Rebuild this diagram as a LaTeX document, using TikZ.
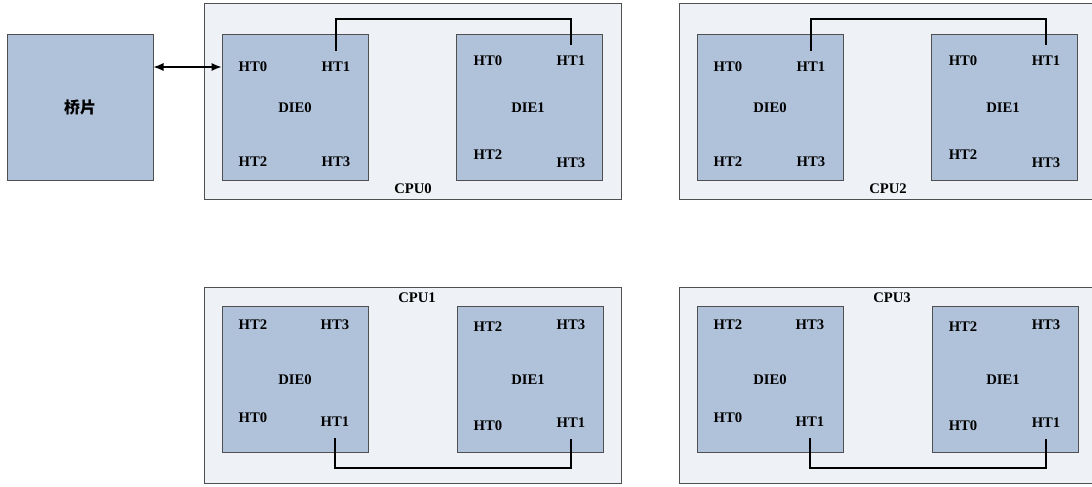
\documentclass[tikz,border=0pt]{standalone}
\usepackage{fontspec}
\setmainfont{Liberation Serif}
\newfontfamily\cjk{Noto Sans CJK SC}
\usetikzlibrary{arrows.meta}
\newlength\pxu
\setlength\pxu{0.75pt}
\definecolor{cpubg}{RGB}{238,241,246}
\definecolor{diebg}{RGB}{176,194,218}
\definecolor{boxline}{RGB}{80,80,80}
\tikzset{
  cpubox/.style={draw=boxline,fill=cpubg,line width=0.75pt,minimum width=417\pxu,minimum height=196\pxu,inner sep=0pt},
  diebox/.style={draw=boxline,fill=diebg,line width=0.75pt,minimum width=146\pxu,minimum height=146\pxu,inner sep=0pt},
  port/.style={font=\fontsize{11}{12}\selectfont\bfseries,inner xsep=1pt,inner ysep=8pt},
  link/.style={draw=black,line width=0.8pt},
  dblarrow/.style={link,{Latex[length=7.5pt,width=6pt]}-{Latex[length=7.5pt,width=6pt]}}
}

\begin{document}
\begin{tikzpicture}[x=\pxu,y=-\pxu]
\useasboundingbox (0,0) rectangle (1092,486);

\node[diebox] (bridge) at (80,107.5) {\cjk\fontsize{12}{14}\selectfont\bfseries 桥片};

% upper row
\foreach \c/\dx in {0/0,2/475}{
  \node[cpubox] (cpu\c) at (412.5+\dx,101) {};
  \node[port] (cpu\c-name) at (413+\dx,189) {CPU\c};
  \node[diebox] (cpu\c-d0) at (295+\dx,107) {};
  \node[diebox] (cpu\c-d1) at (529.5+\dx,107) {};
  \node[port] at (295+\dx,108) {DIE0};
  \node[port] (cpu\c-d0-ht0) at (253+\dx,67) {HT0};
  \node[port] (cpu\c-d0-ht1) at (336+\dx,67) {HT1};
  \node[port] at (253+\dx,162) {HT2};
  \node[port] at (336+\dx,162) {HT3};
  \node[port] at (528+\dx,108) {DIE1};
  \node[port] at (488+\dx,61) {HT0};
  \node[port] (cpu\c-d1-ht1) at (571+\dx,61) {HT1};
  \node[port] at (488+\dx,155) {HT2};
  \node[port] at (571+\dx,163) {HT3};
  \coordinate (cpu\c-bus) at (\dx,19);
  \draw[link] (cpu\c-d0-ht1.north) -- (cpu\c-d0-ht1.north |- cpu\c-bus) -| (cpu\c-d1-ht1.north);
}

% lower row
\foreach \c/\dx in {1/0,3/475}{
  \node[cpubox] (cpu\c) at (412.5+\dx,385) {};
  \node[port] (cpu\c-name) at (417+\dx,298) {CPU\c};
  \node[diebox] (cpu\c-d0) at (295+\dx,379.5) {};
  \node[diebox] (cpu\c-d1) at (530+\dx,379.5) {};
  \node[port] at (295+\dx,380) {DIE0};
  \node[port] at (253+\dx,325) {HT2};
  \node[port] at (335+\dx,325) {HT3};
  \node[port] at (253+\dx,418) {HT0};
  \node[port] (cpu\c-d0-ht1) at (335+\dx,422) {HT1};
  \node[port] at (528+\dx,380) {DIE1};
  \node[port] at (488+\dx,327) {HT2};
  \node[port] at (571+\dx,325) {HT3};
  \node[port] at (488+\dx,426) {HT0};
  \node[port] (cpu\c-d1-ht1) at (571+\dx,423) {HT1};
  \coordinate (cpu\c-bus) at (\dx,468);
  \draw[link] (cpu\c-d0-ht1.south) -- (cpu\c-d0-ht1.south |- cpu\c-bus) -| (cpu\c-d1-ht1.south);
}

\draw[dblarrow] (bridge.east |- cpu0-d0-ht0) -- (cpu0-d0.west |- cpu0-d0-ht0);
\end{tikzpicture}
\end{document}
